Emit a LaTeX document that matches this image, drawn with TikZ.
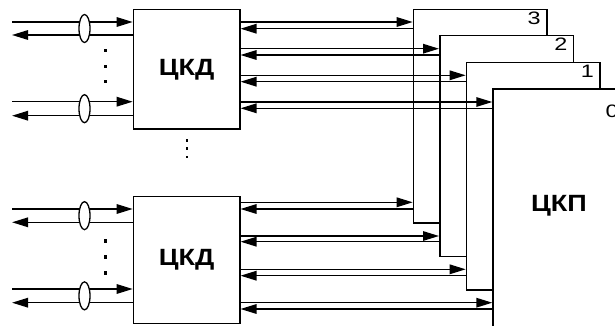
\documentclass[tikz,border=0pt]{standalone}
\usepackage{fontspec}
\setmainfont{Liberation Sans}
\newfontfamily\widefont[FakeStretch=1.15]{Liberation Sans}
\newfontfamily\digitfont[FakeStretch=1.3]{Liberation Sans}
\usetikzlibrary{arrows.meta,positioning,calc,shapes.geometric}

\begin{document}
\begin{tikzpicture}[x=1pt,y=-1pt,
  blk/.style={draw,line width=1.5pt,fill=white,inner sep=0pt,anchor=north west,
    font=\widefont\fontsize{23.5}{23.5}\selectfont\bfseries},
  plane/.style={draw,line width=1.5pt,fill=white,inner sep=0pt,anchor=north west},
  num/.style={inner sep=0pt,anchor=north east,font=\digitfont\fontsize{18}{18}\selectfont},
  bund/.style={ellipse,draw,line width=1.3pt,fill=white,inner sep=0pt,
    minimum width=11pt,minimum height=28pt},
  arr/.style={-{Triangle[length=16pt,width=9.5pt]},line width=1.5pt}]
  \useasboundingbox (0,0) rectangle (615,326);
  \clip (0,0) rectangle (615,326);
  % stacked switching planes, back to front
  \node[plane,minimum width=133.3pt,minimum height=213.3pt] (pl3) at (412.7,9) {};
  \node[plane,minimum width=133.7pt,minimum height=220.7pt] (pl2) at (439,35) {};
  \node[plane,minimum width=133.6pt,minimum height=227.3pt] (pl1) at (465.7,61.7) {};
  \node[plane,minimum width=133pt,minimum height=260pt] (pl0) at (492.3,88.3) {};
  \node[num] (n3) at ($(pl3.north east)+(-6.7,2.5)$) {3};
  \node[num] (n2) at ($(pl2.north east)+(-6.7,2.8)$) {2};
  \node[num] (n1) at ($(pl1.north east)+(-6.7,3)$) {1};
  \node[num] (n0) at ($(pl0.north east)+(-8,16.5)$) {0};
  \node[font=\widefont\fontsize{23.5}{23.5}\selectfont\bfseries] (ckp) at (559,206) {ЦКП};
  % the two concentrators
  \node[blk,minimum width=106.3pt,minimum height=119.3pt] (ckdA) at (132.7,9) {ЦКД};
  \node[blk,minimum width=106.3pt,minimum height=127pt] (ckdB) at (132.7,195.7) {ЦКД};
  % links to the planes
  \foreach \u/\l/\p in {22/28.7/3,48.7/55/2,75.3/81.7/1,102/108.3/0}{
    \draw[arr] (ckdA.east |- 0,\u) -- (pl\p.west |- 0,\u);
    \draw[arr] (pl\p.west |- 0,\l) -- (ckdA.east |- 0,\l);
  }
  \foreach \u/\l/\p in {202.3/209/3,236/241.7/2,269.3/275.7/1,302.7/309/0}{
    \draw[arr] (ckdB.east |- 0,\u) -- (pl\p.west |- 0,\u);
    \draw[arr] (pl\p.west |- 0,\l) -- (ckdB.east |- 0,\l);
  }
  % subscriber lines
  \foreach \b/\u/\l/\k in {A/22/35/1,A/101.7/115.7/2,B/209/222.3/1,B/289/302.7/2}{
    \coordinate (to\b\k) at (12,\u);
    \coordinate (fr\b\k) at (12,\l);
    \draw[arr] (to\b\k) -- (ckd\b.west |- to\b\k);
    \draw[arr] (ckd\b.west |- fr\b\k) -- (fr\b\k);
    \node[bund] (e\b\k) at (84.5,{(\u+\l)/2}) {};
  }
  % dots
  \foreach \y in {50.7,66.7,81.7,241,257,272.7}
    \fill (103.7,\y-1.8) rectangle ++(3.6,3.6);
  \foreach \y in {140.5,148.5,157}
    \fill (185.5,\y-1.3) rectangle ++(2.6,2.6);
\end{tikzpicture}
\end{document}
